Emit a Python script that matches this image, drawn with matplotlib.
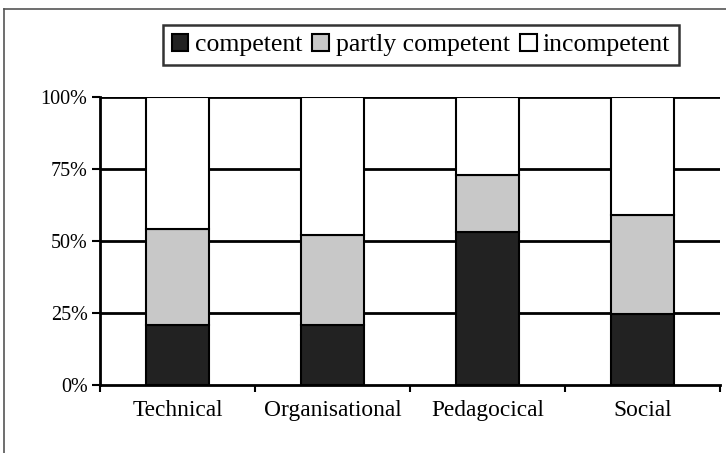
import matplotlib
matplotlib.use("Agg")
import matplotlib.pyplot as plt
from matplotlib.lines import Line2D
import numpy as np

categories = ["Technical", "Organisational", "Pedagocical", "Social"]
competent = [21, 21, 53, 24.5]
partly = [33, 31, 20, 34.5]
incompetent = [46, 48, 27, 41]
series_names = ["competent", "partly competent", "incompetent"]
yticks = [0, 25, 50, 75, 100]
ytick_labels = ["0%", "25%", "50%", "75%", "100%"]

plt.rcParams['font.family'] = ['Liberation Serif', 'DejaVu Serif']

W, H = 726, 453
fig = plt.figure(figsize=(W / 100, H / 100), dpi=100)
fig.patch.set_facecolor("white")

ax = fig.add_axes([100 / W, (H - 385) / H, 620 / W, 288 / H])

x = np.arange(len(categories))
bw = 0.41
colors = ["#222222", "#c8c8c8", "#ffffff"]
bottoms = np.zeros(len(categories))
handles = []
for vals, col, name in zip([competent, partly, incompetent], colors, series_names):
    b = ax.bar(x, vals, bw, bottom=bottoms, color=col, edgecolor="black",
               linewidth=1.5, label=name, zorder=3)
    handles.append(b)
    bottoms = bottoms + np.array(vals)

ax.set_xlim(-0.5, len(categories) - 0.5)
ax.set_ylim(0, 100)
ax.set_yticks(yticks)
ax.set_yticklabels(ytick_labels, fontsize=14.5)
for y in yticks[1:]:
    ax.axhline(y, color="black", linewidth=2.0, zorder=1)

ax.set_xticks(np.arange(-0.5, len(categories), 1.0))
ax.set_xticklabels([])
ax.set_xticks(x, minor=True)
ax.set_xticklabels(categories, minor=True, fontsize=16.8)
ax.tick_params(axis="x", which="minor", length=0, pad=11)
ax.tick_params(axis="x", which="major", length=5, width=1.5, direction="out")
ax.tick_params(axis="y", length=6, width=1.5, direction="out", pad=3)

for s in ["top", "right"]:
    ax.spines[s].set_visible(False)
for s in ["left", "bottom"]:
    ax.spines[s].set_linewidth(2.0)
    ax.spines[s].set_zorder(4)

leg = fig.legend(handles=handles, labels=series_names, loc="center",
                 bbox_to_anchor=(421 / W, (H - 45) / H), ncol=3,
                 fontsize=18.5, frameon=True, fancybox=False,
                 handlelength=0.65, handleheight=0.65, handletextpad=0.25,
                 columnspacing=0.4, borderpad=0.35, borderaxespad=0)
leg.get_frame().set_edgecolor("black")
leg.get_frame().set_linewidth(1.8)
for p in leg.get_patches():
    p.set_linewidth(1.5)

# outer border (top and left, as visible in reference)
fig.add_artist(Line2D([4 / W, 4 / W], [0, (H - 9) / H], color="#555555", linewidth=1.2, transform=fig.transFigure))
fig.add_artist(Line2D([4 / W, 1.0], [(H - 9) / H, (H - 9) / H], color="#555555", linewidth=1.2, transform=fig.transFigure))

fig.savefig("out.png", dpi=100, facecolor="white")
